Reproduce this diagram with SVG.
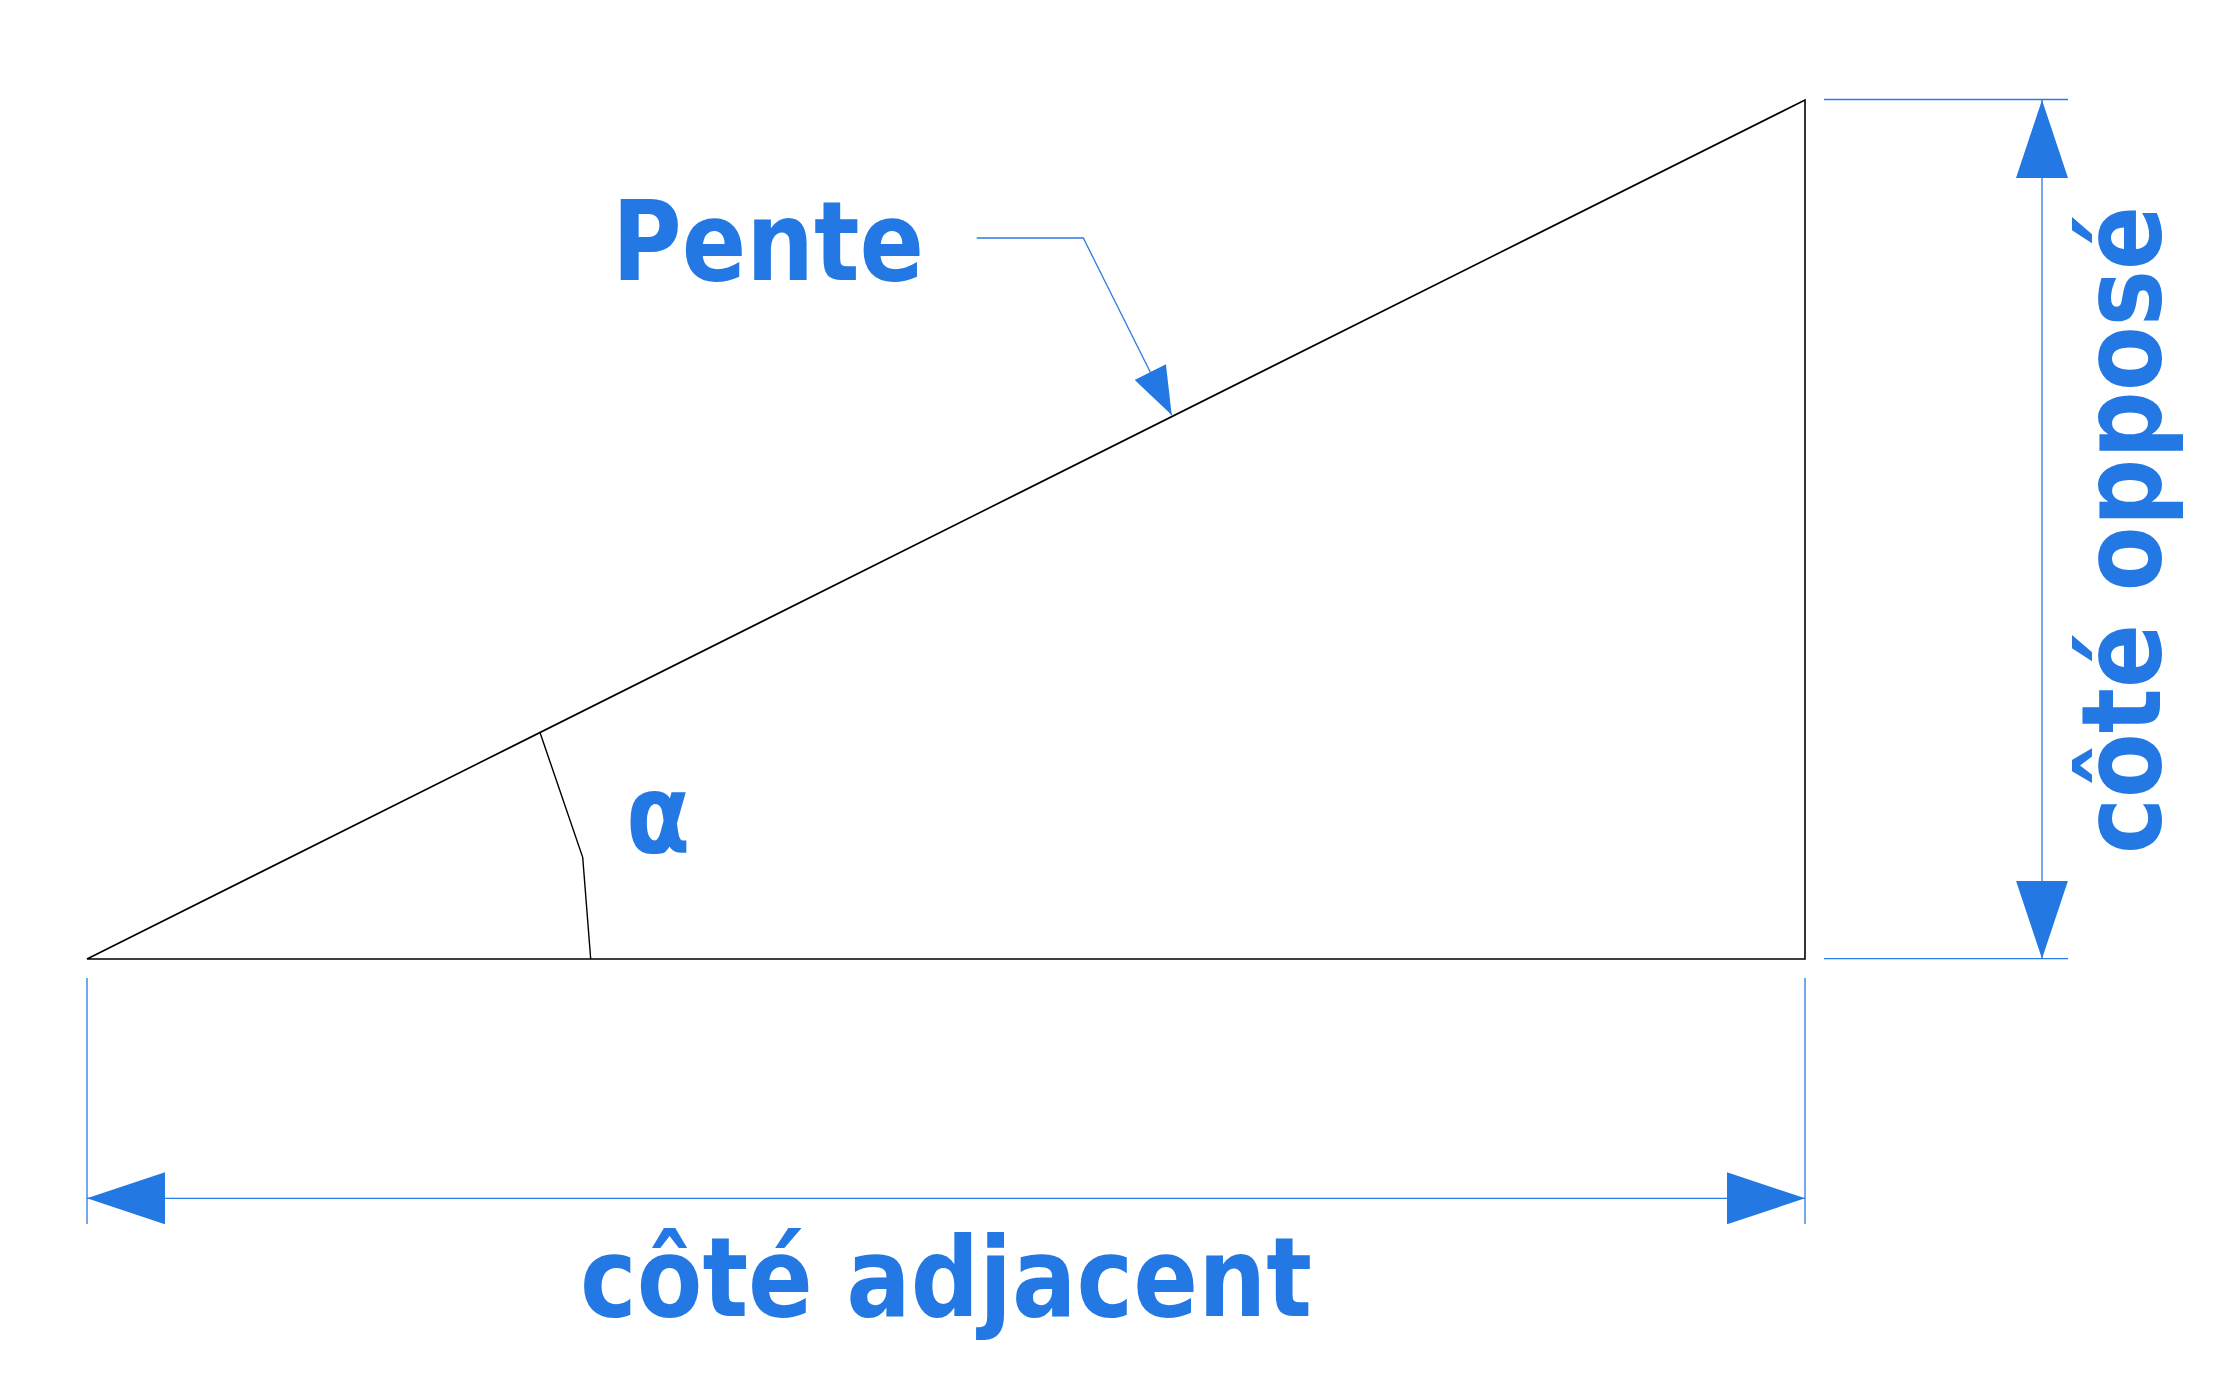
<svg xmlns="http://www.w3.org/2000/svg" width="2240" height="1384" viewBox="0 0 2240 1384">
  <style>
    .shape { fill: none; stroke: #000000; stroke-width: 1.6; stroke-linejoin: miter; }
    .thin { fill: none; stroke: #000000; stroke-width: 1.4; }
    .dim { fill: none; stroke: #2a7be4; stroke-width: 1.3; }
    .lbl { fill: #2378e3; font-family: "DejaVu Sans", "Liberation Sans", sans-serif; font-weight: bold; font-size: 110px; }
  </style>
  <defs>
    <marker id="dimArrow" viewBox="0 0 78 52" refX="78" refY="26" markerWidth="78" markerHeight="52" markerUnits="userSpaceOnUse" orient="auto-start-reverse">
      <path d="M0,0 L78,26 L0,52 Z" fill="#2378e3"/>
    </marker>
    <marker id="leadArrow" viewBox="0 0 48 35" refX="48" refY="17.5" markerWidth="48" markerHeight="35" markerUnits="userSpaceOnUse" orient="auto">
      <path d="M0,0 L48,17.5 L0,35 Z" fill="#2378e3"/>
    </marker>
  </defs>
  <rect x="0" y="0" width="2240" height="1384" fill="#ffffff"/>

  <g id="triangle">
    <path class="shape" d="M87,959 L1805,959 L1805,100 Z"/>
  </g>
  <g id="angle-marker">
    <path class="thin" d="M540,732.5 L582.7,857.3 L590.7,959"/>
  </g>

  <g id="connectors">
    <!-- horizontal dimension -->
    <line class="dim" x1="87" y1="978" x2="87" y2="1224"/>
    <line class="dim" x1="1805" y1="978" x2="1805" y2="1224"/>
    <line class="dim" x1="87" y1="1198.3" x2="1805" y2="1198.3" marker-start="url(#dimArrow)" marker-end="url(#dimArrow)"/>
    <!-- vertical dimension -->
    <line class="dim" x1="1824" y1="99.5" x2="2068" y2="99.5"/>
    <line class="dim" x1="1824" y1="958.7" x2="2068" y2="958.7"/>
    <line class="dim" x1="2042" y1="100" x2="2042" y2="958.7" marker-start="url(#dimArrow)" marker-end="url(#dimArrow)"/>
    <!-- leader for Pente -->
    <path class="dim" d="M976.7,238 L1083.3,238 L1171.7,415" marker-end="url(#leadArrow)"/>
  </g>

  <g id="label-pente">
    <text class="lbl" x="768" y="280" text-anchor="middle" textLength="312" lengthAdjust="spacingAndGlyphs">Pente</text>
  </g>
  <g id="label-alpha">
    <text class="lbl" transform="translate(658,852) scale(0.85,1)" text-anchor="middle">α</text>
  </g>
  <g id="label-adjacent">
    <text class="lbl" x="946" y="1316" text-anchor="middle" textLength="732" lengthAdjust="spacingAndGlyphs">côté adjacent</text>
  </g>
  <g id="label-oppose">
    <text class="lbl" transform="translate(2160,530) rotate(-90)" x="0" y="0" text-anchor="middle" textLength="648" lengthAdjust="spacingAndGlyphs">côté opposé</text>
  </g>
</svg>
